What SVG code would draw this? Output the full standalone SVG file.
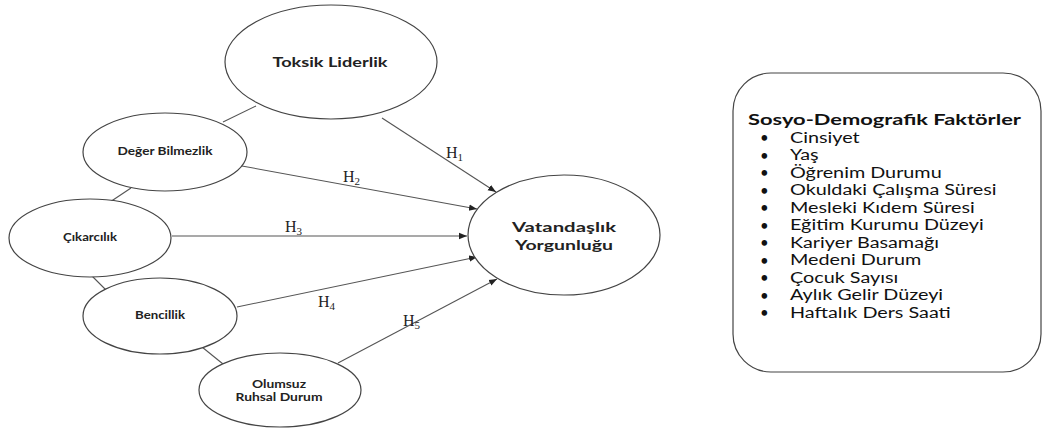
<svg xmlns="http://www.w3.org/2000/svg" width="1044" height="429" viewBox="0 0 1044 429">
<style>
.node{fill:#fff;stroke:#444;stroke-width:1.2}
.lbl{font-family:Lato,"Open Sans",sans-serif;font-weight:700;fill:#222;text-anchor:middle}
.line{stroke:#555;stroke-width:1.1;fill:none}
.arr{stroke:#555;stroke-width:1.1;fill:none;marker-end:url(#ah)}
.h{font-family:"Liberation Serif",serif;font-size:16px;fill:#222}
.h tspan{font-size:11px}
.list{font-family:Lato,"Open Sans",sans-serif;font-size:15px;fill:#111}
</style>
<defs>
<marker id="ah" viewBox="0 0 10 10" refX="10" refY="5" markerWidth="8" markerHeight="8" markerUnits="userSpaceOnUse" orient="auto">
<path d="M0,1 L10,5 L0,9 z" fill="#222"/>
</marker>
</defs>
<rect width="1044" height="429" fill="#fff"/>
<g id="connectors">
<line class="line" x1="223" y1="122" x2="256" y2="106"/>
<line class="line" x1="131" y1="188" x2="110" y2="202"/>
<line class="line" x1="91" y1="275" x2="106" y2="290"/>
<line class="line" x1="202" y1="347" x2="223" y2="364"/>
<line class="arr" x1="382" y1="118" x2="496" y2="192"/>
<line class="arr" x1="242" y1="166" x2="477" y2="209"/>
<line class="arr" x1="172" y1="236" x2="467" y2="236"/>
<line class="arr" x1="237" y1="307" x2="477" y2="257"/>
<line class="arr" x1="338" y1="363" x2="497" y2="279"/>
<text class="h" x="446" y="158">H<tspan dy="3">1</tspan></text>
<text class="h" x="343" y="182">H<tspan dy="3">2</tspan></text>
<text class="h" x="285" y="232">H<tspan dy="3">3</tspan></text>
<text class="h" x="318" y="307">H<tspan dy="3">4</tspan></text>
<text class="h" x="403" y="326">H<tspan dy="3">5</tspan></text>
</g>
<g id="toksik">
<ellipse class="node" cx="331" cy="62" rx="106" ry="57"/>
<text class="lbl" x="330" y="67" font-size="13" textLength="115" lengthAdjust="spacingAndGlyphs">Toksik Liderlik</text>
</g>
<g id="deger">
<ellipse class="node" cx="165" cy="152" rx="82" ry="39"/>
<text class="lbl" x="165" y="155" font-size="10.5" textLength="95" lengthAdjust="spacingAndGlyphs">Değer Bilmezlik</text>
</g>
<g id="cikarcilik">
<ellipse class="node" cx="90" cy="238" rx="81" ry="39"/>
<text class="lbl" x="90" y="241" font-size="10.5" textLength="54" lengthAdjust="spacingAndGlyphs">Çıkarcılık</text>
</g>
<g id="bencillik">
<ellipse class="node" cx="160" cy="316" rx="77" ry="38"/>
<text class="lbl" x="160" y="319" font-size="10.5" textLength="50" lengthAdjust="spacingAndGlyphs">Bencillik</text>
</g>
<g id="olumsuz">
<ellipse class="node" cx="280" cy="390" rx="81" ry="37"/>
<text class="lbl" x="279" y="388" font-size="10.5" font-weight="400" textLength="54" lengthAdjust="spacingAndGlyphs">Olumsuz</text>
<text class="lbl" x="279" y="401" font-size="10.5" font-weight="400" textLength="87" lengthAdjust="spacingAndGlyphs">Ruhsal Durum</text>
</g>
<g id="vatandaslik">
<ellipse class="node" cx="564" cy="235" rx="96" ry="60"/>
<text class="lbl" x="564" y="232" font-size="13" textLength="104" lengthAdjust="spacingAndGlyphs">Vatandaşlık</text>
<text class="lbl" x="564" y="250" font-size="13" textLength="98" lengthAdjust="spacingAndGlyphs">Yorgunluğu</text>
</g>
<g id="sosyo">
<rect class="node" x="733" y="73" width="308" height="299" rx="38" ry="38"/>
<text class="list" x="748" y="125" font-weight="700" textLength="273" lengthAdjust="spacingAndGlyphs">Sosyo-Demografik Faktörler</text>
<g class="list">
<text x="760" y="143">•</text>
<text x="760" y="160.5">•</text>
<text x="760" y="178">•</text>
<text x="760" y="195.5">•</text>
<text x="760" y="213">•</text>
<text x="760" y="230.5">•</text>
<text x="760" y="248">•</text>
<text x="760" y="265.5">•</text>
<text x="760" y="283">•</text>
<text x="760" y="300.5">•</text>
<text x="760" y="318">•</text>
</g>
<g class="list" transform="matrix(1.32,0,0,1,-252.8,0)">
<text x="790" y="143">Cinsiyet</text>
<text x="790" y="160.5">Yaş</text>
<text x="790" y="178">Öğrenim Durumu</text>
<text x="790" y="195.5">Okuldaki Çalışma Süresi</text>
<text x="790" y="213">Mesleki Kıdem Süresi</text>
<text x="790" y="230.5">Eğitim Kurumu Düzeyi</text>
<text x="790" y="248">Kariyer Basamağı</text>
<text x="790" y="265.5">Medeni Durum</text>
<text x="790" y="283">Çocuk Sayısı</text>
<text x="790" y="300.5">Aylık Gelir Düzeyi</text>
<text x="790" y="318">Haftalık Ders Saati</text>
</g>
</g>
</svg>
